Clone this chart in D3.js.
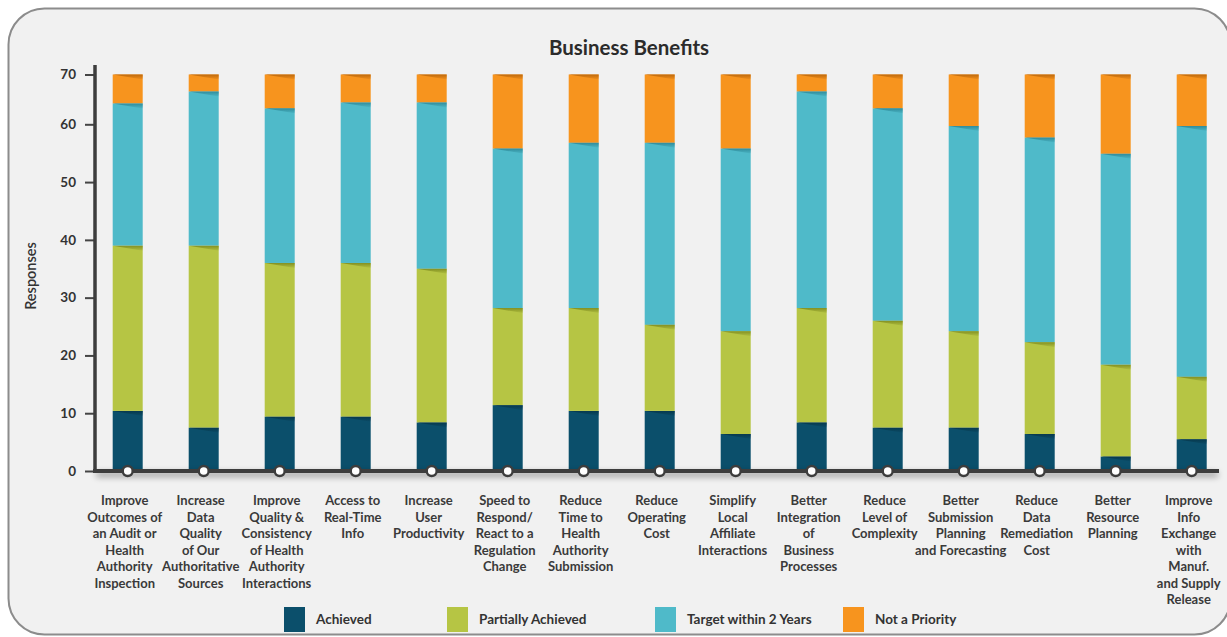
<!DOCTYPE html>
<html>
<head>
<meta charset="utf-8">
<script src="https://cdn.jsdelivr.net/npm/d3@7"></script>
<style>
  html, body { margin: 0; padding: 0; background: #ffffff; }
  svg { display: block; }
  text { font-family: Lato, "Open Sans", sans-serif; }
</style>
</head>
<body>
<svg id="chart" width="1227" height="637"></svg>
<script>
// Category labels, one entry per line of the wrapped label
const categories = [
  ["Improve", "Outcomes of", "an Audit or", "Health", "Authority", "Inspection"],
  ["Increase", "Data", "Quality", "of Our", "Authoritative", "Sources"],
  ["Improve", "Quality &", "Consistency", "of Health", "Authority", "Interactions"],
  ["Access to", "Real-Time", "Info"],
  ["Increase", "User", "Productivity"],
  ["Speed to", "Respond/", "React to a", "Regulation", "Change"],
  ["Reduce", "Time to", "Health", "Authority", "Submission"],
  ["Reduce", "Operating", "Cost"],
  ["Simplify", "Local", "Affiliate", "Interactions"],
  ["Better", "Integration", "of", "Business", "Processes"],
  ["Reduce", "Level of", "Complexity"],
  ["Better", "Submission", "Planning", "and Forecasting"],
  ["Reduce", "Data", "Remediation", "Cost"],
  ["Better", "Resource", "Planning"],
  ["Improve", "Info", "Exchange", "with", "Manuf.", "and Supply", "Release"]
];

// Responses per category, by series
const achieved          = [10.4, 7.5, 9.4, 9.4, 8.4, 11.4, 10.4, 10.4, 6.4, 8.4, 7.5, 7.5, 6.4, 2.5, 5.5];
const partiallyAchieved = [28.6, 31.5, 26.6, 26.6, 26.6, 16.8, 17.8, 14.9, 17.8, 19.8, 18.5, 16.7, 15.9, 15.9, 10.8];
const targetWithin2Yrs  = [25.2, 27.6, 27.2, 28.4, 29.4, 27.6, 28.6, 31.5, 31.6, 38.4, 37.2, 35.5, 35.4, 36.5, 43.4];
const notAPriority      = [5.8, 3.4, 6.8, 5.6, 5.6, 14.2, 13.2, 13.2, 14.2, 3.4, 6.8, 10.3, 12.3, 15.1, 10.3];

const seriesNames = ["Achieved", "Partially Achieved", "Target within 2 Years", "Not a Priority"];
const seriesValues = [achieved, partiallyAchieved, targetWithin2Yrs, notAPriority];
const seriesColors = ["#0b4f6b", "#b6c544", "#4fbac9", "#f7941e"];
const seriesShade  = ["#06364a", "#7d8a1e", "#2c8796", "#b8640a"];

const yTicks = [0, 10, 20, 30, 40, 50, 60, 70];
const chartTitle = "Business Benefits";
const yTitle = "Responses";

const svg = d3.select("#chart");
const defs = svg.append("defs");

// Panel background
svg.append("rect")
  .attr("x", 8.5).attr("y", 8.5)
  .attr("width", 1222).attr("height", 626)
  .attr("rx", 36).attr("ry", 36)
  .attr("fill", "#f1f1f1")
  .attr("stroke", "#8c8c8c")
  .attr("stroke-width", 2);

// Shadow under the baseline
const sh = defs.append("filter").attr("id", "axisShadow")
  .attr("x", "-5%").attr("y", "-200%").attr("width", "110%").attr("height", "500%");
sh.append("feGaussianBlur").attr("stdDeviation", 3);

// Fold shading gradients for segment tops
seriesShade.forEach((c, i) => {
  const g = defs.append("linearGradient").attr("id", "fold" + i)
    .attr("x1", 0).attr("y1", 0).attr("x2", 0).attr("y2", 1);
  g.append("stop").attr("offset", "0%").attr("stop-color", c).attr("stop-opacity", 0.9);
  g.append("stop").attr("offset", "100%").attr("stop-color", c).attr("stop-opacity", 0.1);
});

// Scales
const x = d3.scalePoint()
  .domain(d3.range(categories.length))
  .range([127.7, 127.7 + 76 * (categories.length - 1)]);
const y = d3.scaleLinear()
  .domain([0, 60, 70])
  .range([471, 124.3, 74.5]);
const barW = 30;

// Stack the series
const rows = categories.map((c, i) => {
  const r = { i };
  seriesNames.forEach((s, k) => r[s] = seriesValues[k][i]);
  return r;
});
const stacked = d3.stack().keys(seriesNames)(rows);

// Title
svg.append("text")
  .attr("x", 629).attr("y", 55)
  .attr("text-anchor", "middle")
  .attr("font-size", 20.5).attr("font-weight", 700)
  .attr("fill", "#2b2b2b")
  .text(chartTitle);

// Y title
svg.append("text")
  .attr("transform", "translate(36,276) rotate(-90)")
  .attr("text-anchor", "middle")
  .attr("font-size", 14.5).attr("font-weight", 600)
  .attr("fill", "#333")
  .text(yTitle);

// Bars
const layers = svg.append("g").selectAll("g")
  .data(stacked).join("g")
  .attr("fill", (d, k) => seriesColors[k]);

layers.selectAll("rect")
  .data(d => d).join("rect")
  .attr("x", d => x(d.data.i) - barW / 2)
  .attr("width", barW)
  .attr("y", d => y(d[1]))
  .attr("height", d => y(d[0]) - y(d[1]));

// Fold shading at the top of every segment
stacked.forEach((layer, k) => {
  svg.append("g").selectAll("path")
    .data(layer).join("path")
    .attr("fill", `url(#fold${k})`)
    .attr("d", d => {
      const x0 = x(d.data.i) - barW / 2, x1 = x0 + barW, yt = y(d[1]);
      const h = Math.min(5, y(d[0]) - yt);
      return `M${x0},${yt}L${x1},${yt}L${x1},${yt + h}Z`;
    });
});

// Y axis
const yAxis = svg.append("g").attr("transform", "translate(95,0)")
  .call(d3.axisLeft(y).tickValues(yTicks).tickSize(10).tickPadding(9).tickFormat(d3.format("d")));
yAxis.select(".domain").remove();
yAxis.selectAll(".tick line").attr("stroke", "#444").attr("stroke-width", 2);
yAxis.selectAll(".tick text")
  .attr("font-family", "Lato, sans-serif")
  .attr("font-size", 13.5).attr("font-weight", 700).attr("fill", "#333");
svg.append("line")
  .attr("x1", 95).attr("x2", 95).attr("y1", 65).attr("y2", 472)
  .attr("stroke", "#3d3d3d").attr("stroke-width", 3.5);

// Baseline with shadow
svg.append("rect")
  .attr("x", 96).attr("y", 472).attr("width", 1122).attr("height", 5)
  .attr("fill", "#000").attr("opacity", 0.35)
  .attr("filter", "url(#axisShadow)");
svg.append("line")
  .attr("x1", 93).attr("x2", 1219).attr("y1", 471).attr("y2", 471)
  .attr("stroke", "#3d3d3d").attr("stroke-width", 4);

// Markers at each category
svg.append("g").selectAll("circle")
  .data(categories.map((c, i) => i)).join("circle")
  .attr("cx", i => x(i)).attr("cy", 471).attr("r", 5)
  .attr("fill", "#ffffff").attr("stroke", "#3d3d3d").attr("stroke-width", 2.5);

// Category labels
const labels = svg.append("g").selectAll("text")
  .data(categories).join("text")
  .attr("text-anchor", "middle")
  .attr("font-size", 13).attr("font-weight", 700)
  .attr("fill", "#3a3a3a");
labels.each(function(lines, i) {
  d3.select(this).selectAll("tspan")
    .data(lines).join("tspan")
    .attr("x", x(i) - 3)
    .attr("y", (l, j) => 505 + j * 16.5)
    .text(l => l);
});

// Legend
const legendX = [284, 447, 655, 843];
const legend = svg.append("g").selectAll("g")
  .data(seriesNames).join("g")
  .attr("transform", (d, k) => `translate(${legendX[k]},607)`);
legend.append("rect")
  .attr("width", 21).attr("height", 25)
  .attr("fill", (d, k) => seriesColors[k]);
legend.append("text")
  .attr("x", 32).attr("y", 17)
  .attr("font-size", 13.5).attr("font-weight", 700)
  .attr("fill", "#333")
  .text(d => d);
</script>
</body>
</html>
